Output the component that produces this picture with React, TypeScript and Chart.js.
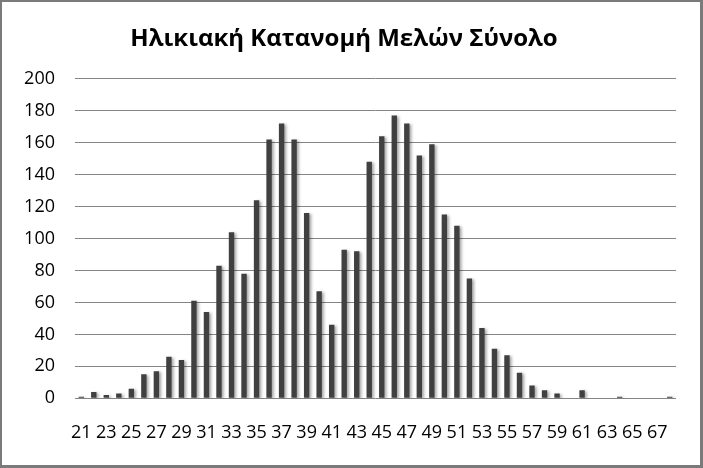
import React, { useEffect, useRef } from 'react';
import { Chart, registerables } from 'chart.js';

Chart.register(...registerables);

const titleText = 'Ηλικιακή Κατανομή Μελών Σύνολο';

const ages = [
  '21', '22', '23', '24', '25', '26', '27', '28', '29', '30',
  '31', '32', '33', '34', '35', '36', '37', '38', '39', '40',
  '41', '42', '43', '44', '45', '46', '47', '48', '49', '50',
  '51', '52', '53', '54', '55', '56', '57', '58', '59', '60',
  '61', '62', '63', '64', '65', '66', '67', '68',
];

const members = [
  1, 4, 2, 3, 6, 15, 17, 26, 24, 61,
  54, 83, 104, 78, 124, 162, 172, 162, 116, 67,
  46, 93, 92, 148, 164, 177, 172, 152, 159, 115,
  108, 75, 44, 31, 27, 16, 8, 5, 3, 0,
  5, 0, 0, 1, 0, 0, 0, 1,
];

const yMax = 200;
const yStep = 20;

const shadowPlugin = {
  id: 'barShadow',
  beforeDatasetsDraw(chart: any) {
    const ctx = chart.ctx;
    ctx.save();
    ctx.shadowColor = 'rgba(0,0,0,0.35)';
    ctx.shadowBlur = 3;
    ctx.shadowOffsetX = 2;
    ctx.shadowOffsetY = 1;
  },
  afterDatasetsDraw(chart: any) {
    chart.ctx.restore();
  },
};

export default function App() {
  const ref = useRef<HTMLCanvasElement | null>(null);

  useEffect(() => {
    document.body.style.margin = '0';
    const canvas = ref.current;
    if (!canvas) return;
    const chart = new Chart(canvas, {
      type: 'bar',
      data: {
        labels: ages,
        datasets: [
          {
            label: 'Σύνολο',
            data: members,
            backgroundColor: '#404040',
            borderWidth: 0,
            barPercentage: 0.43,
            categoryPercentage: 1.0,
          },
        ],
      },
      options: {
        responsive: false,
        animation: false,
        events: [],
        layout: { padding: { left: 10, right: 24, top: 0, bottom: 18.7 } },
        plugins: {
          legend: { display: false },
          tooltip: { enabled: false },
          title: {
            display: true,
            text: titleText,
            color: '#000000',
            font: { family: "'Open Sans', 'Noto Sans', sans-serif", size: 24, weight: 'bold' },
            padding: { top: 23, bottom: 25 },
          },
        },
        scales: {
          x: {
            grid: { display: false, drawTicks: false },
            border: { display: false },
            ticks: {
              autoSkip: false,
              maxRotation: 0,
              minRotation: 0,
              padding: 24,
              color: '#000000',
              font: { family: "'Open Sans', 'Noto Sans', sans-serif", size: 18 },
              callback: (_v: any, i: number) => (i % 2 === 0 ? ages[i] : ''),
            },
            afterFit: (scale: any) => {
              scale.height = 48;
            },
          },
          y: {
            min: 0,
            max: yMax,
            ticks: {
              stepSize: yStep,
              padding: 20,
              color: '#000000',
              font: { family: "'Open Sans', 'Noto Sans', sans-serif", size: 18 },
            },
            grid: { color: '#858585', lineWidth: 1, drawTicks: false },
            border: { display: false },
            afterFit: (scale: any) => {
              scale.width = 63;
            },
          },
        },
      },
      plugins: [shadowPlugin],
    });
    return () => chart.destroy();
  }, []);

  return (
    <div
      style={{
        width: 703,
        height: 468,
        boxSizing: 'border-box',
        borderStyle: 'solid',
        borderColor: '#7a7a7a',
        borderWidth: '2px 3px 3px 2px',
        background: '#ffffff',
        overflow: 'hidden',
      }}
    >
      <canvas ref={ref} width={698} height={463} style={{ display: 'block' }} />
    </div>
  );
}
